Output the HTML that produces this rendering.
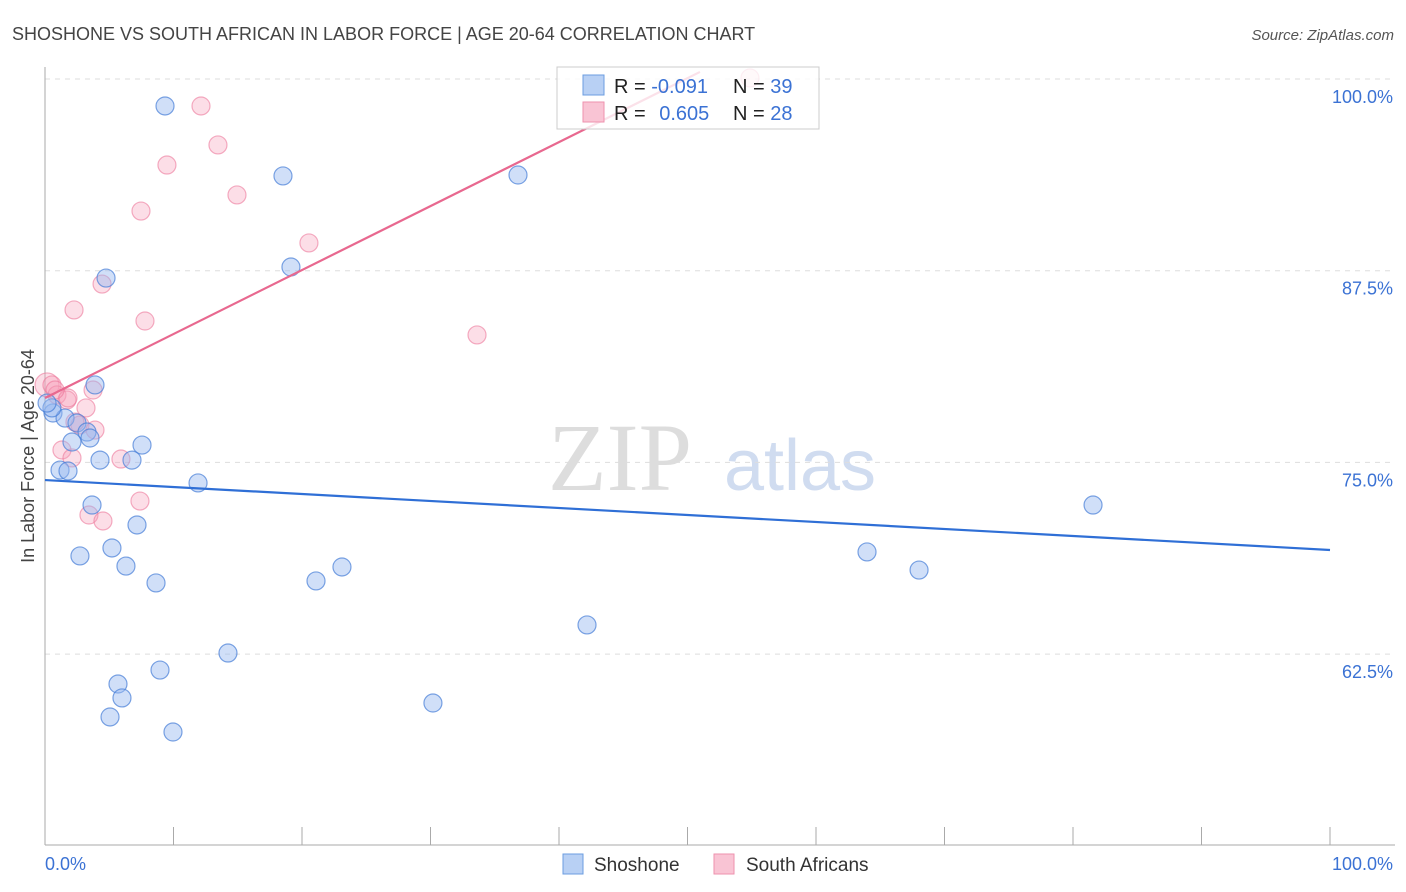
<!DOCTYPE html>
<html><head><meta charset="utf-8">
<style>
body{margin:0;background:#fff;font-family:"Liberation Sans",sans-serif;}
svg{display:block}
</style></head>
<body>
<svg id="chart" width="1406" height="892">
<text x="12" y="40" font-size="18" fill="#444">SHOSHONE VS SOUTH AFRICAN IN LABOR FORCE | AGE 20-64 CORRELATION CHART</text>
<text x="1394" y="40" font-size="15" fill="#555" font-style="italic" text-anchor="end">Source: ZipAtlas.com</text>
<text x="620" y="490" font-size="96" fill="#ddd" font-family="Liberation Serif,serif" text-anchor="middle">ZIP</text>
<text x="800" y="490" font-size="72" fill="#d0dcf0" text-anchor="middle">atlas</text>
<text transform="translate(34,456) rotate(-90)" font-size="18" fill="#444" text-anchor="middle">In Labor Force | Age 20-64</text>
<g id="grid"></g><g id="axes"></g><g id="marks"></g>
<g>
<rect x="557" y="67" width="262" height="62" fill="rgba(255,255,255,0.8)" stroke="#ccc"/>
<rect x="583" y="75" width="21" height="20" fill="#b8d0f4" stroke="#6b9de0"/>
<rect x="583" y="102" width="21" height="20" fill="#f9c4d4" stroke="#ee92ae"/>
<text x="614" y="93" font-size="20" fill="#222">R = <tspan fill="#3b72d4">-0.091</tspan></text>
<text x="733" y="93" font-size="20" fill="#222">N = <tspan fill="#3b72d4">39</tspan></text>
<text x="614" y="120" font-size="20" fill="#222">R = <tspan fill="#3b72d4" dx="8">0.605</tspan></text>
<text x="733" y="120" font-size="20" fill="#222">N = <tspan fill="#3b72d4">28</tspan></text>
</g>
<g>
<rect x="563" y="854" width="20" height="20" fill="#b8d0f4" stroke="#6b9de0"/>
<text x="594" y="871" font-size="19" fill="#333">Shoshone</text>
<rect x="714" y="854" width="20" height="20" fill="#f9c4d4" stroke="#ee92ae"/>
<text x="746" y="871" font-size="19" fill="#333">South Africans</text>
</g>
</svg>
<script>
const yTicks=[100,87.5,75,62.5];
const yTickLabels=["100.0%","87.5%","75.0%","62.5%"];
const blueX=[9.34,18.52,36.81,19.14,4.75,3.89,0.62,1.56,2.49,3.27,3.50,2.10,7.55,4.28,6.77,1.17,1.79,11.91,3.66,7.16,5.21,2.72,6.30,8.64,21.09,23.11,14.24,8.95,5.68,5.99,5.06,9.96,30.19,42.18,63.97,68.02,81.56,0.54,0.16];
const blueY=[98.24,93.68,93.74,87.74,87.02,80.05,78.22,77.89,77.57,76.98,76.59,76.33,76.13,75.15,75.15,74.50,74.44,73.66,72.22,70.92,69.42,68.90,68.24,67.14,67.27,68.18,62.57,61.46,60.55,59.64,58.40,57.42,59.31,64.40,69.16,67.98,72.22,78.55,78.87];
const pinkX=[12.14,9.49,13.46,14.94,7.47,20.54,4.44,2.26,7.78,33.62,0.16,0.54,0.93,3.74,1.71,3.19,2.72,3.89,1.32,2.10,5.91,7.39,3.42,4.51,1.79,2.33,54.86,0.78];
const pinkY=[98.24,94.39,95.70,92.44,91.39,89.31,86.63,84.94,84.22,83.31,80.05,80.05,79.40,79.72,79.07,78.55,77.44,77.11,75.81,75.29,75.22,72.48,71.57,71.18,79.20,77.63,100.07,79.72];
const blueTrend=[73.85,69.29];
const pinkTrend=[79.2,100.46];
const pinkTrendEnd=50.97;

const NS="http://www.w3.org/2000/svg";
const xs=v=>45+v*12.85;
const ys=v=>79+(100-v)*15.336;
function mk(t,a,p){const e=document.createElementNS(NS,t);for(const k in a)e.setAttribute(k,a[k]);p.appendChild(e);return e;}
const grid=document.getElementById('grid'),axes=document.getElementById('axes'),marks=document.getElementById('marks');
yTicks.forEach((t,i)=>{
 const l=mk('line',{x1:45,x2:1395,y1:ys(t),y2:ys(t),stroke:'#ddd','stroke-dasharray':'5,5'},grid);
 
 
 const tx=mk('text',{x:1393,y:ys(t)+24,'font-size':18,fill:'#3b72d4','text-anchor':'end'},grid);
 tx.textContent=yTickLabels[i];
 
 
});
const ax=mk('line',{x1:45,x2:1395,y1:845,y2:845,stroke:'#aaa'},axes);


const ay=mk('line',{x1:45,x2:45,y1:67,y2:845,stroke:'#aaa'},axes);


for(let i=0;i<=10;i++){
 const t=mk('line',{x1:xs(i*10),x2:xs(i*10),y1:827,y2:845,stroke:'#aaa'},axes);
 
 
}
const xl=mk('text',{x:45,y:870,'font-size':18,fill:'#3b72d4'},axes);xl.textContent='0.0%';


const xr=mk('text',{x:1393,y:870,'font-size':18,fill:'#3b72d4','text-anchor':'end'},axes);xr.textContent='100.0%';


pinkX.forEach((x,i)=>{
 const c=mk('circle',{cx:xs(x),cy:ys(pinkY[i]),r:(i==10?12:9),fill:'rgba(246,160,186,0.35)',stroke:'rgba(236,120,155,0.6)','stroke-width':1.2},marks);
 
 
});
blueX.forEach((x,i)=>{
 const c=mk('circle',{cx:xs(x),cy:ys(blueY[i]),r:9,fill:'rgba(150,185,240,0.45)',stroke:'rgba(70,125,215,0.7)','stroke-width':1.2},marks);
 
 
});
const bl=mk('line',{x1:xs(0),y1:ys(blueTrend[0]),x2:xs(100),y2:ys(blueTrend[1]),stroke:'#2f6fd6','stroke-width':2.2},marks);


const pl=mk('line',{x1:xs(0),y1:ys(pinkTrend[0]),x2:xs(pinkTrendEnd),y2:ys(pinkTrend[1]),stroke:'#e8688f','stroke-width':2.2},marks);


</script>
</body></html>
